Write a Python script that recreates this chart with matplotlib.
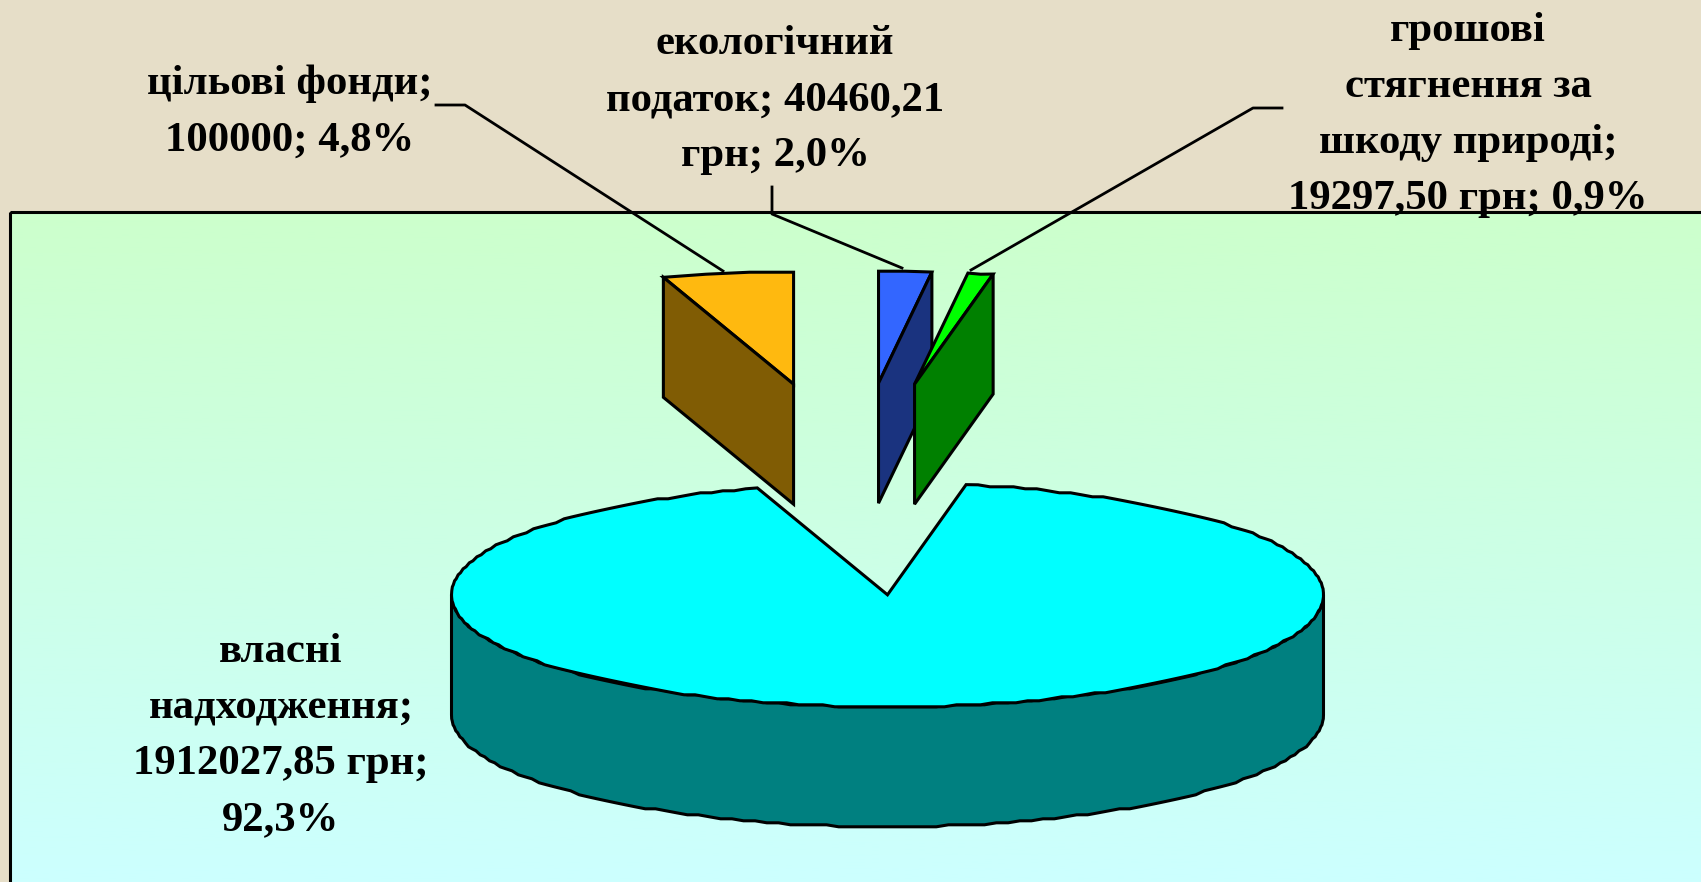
import numpy as np
import matplotlib
matplotlib.use("Agg")
import matplotlib.pyplot as plt
from matplotlib.patches import Polygon, Rectangle

# slices, clockwise from 12 o'clock
names = ["екологічний податок", "грошові стягнення", "власні надходження", "цільові фонди"]
values = [40460.21, 19297.50, 1912027.85, 100000.0]
labels = [
    "екологічний\nподаток; 40460,21\nгрн; 2,0%",
    "грошові\nстягнення за\nшкоду природі;\n19297,50 грн; 0,9%",
    "власні\nнадходження;\n1912027,85 грн;\n92,3%",
    "цільові фонди;\n100000; 4,8%",
]
top_colors = ["#3366FF", "#00FF00", "#00FFFF", "#FFB90F"]
side_colors = ["#1A337F", "#008000", "#008080", "#805C04"]

W, H = 1701, 882
RX, RY, DEPTH = 436, 112, 120
CX, CY = 854, 489
EXPLODE_X, EXPLODE_Y = 400, 106
LW = 2.2


def ell(a):
    a = np.radians(a)
    return np.column_stack([RX * np.sin(a), -RY * np.cos(a)])


def rough_arc(a0, a1, step=1.6, snap=2.0):
    # the original outline is a coarse polyline, not a smooth curve
    n = max(int((a1 - a0) / step), 2)
    pts = ell(np.linspace(a0, a1, n + 1))
    pts[1:-1, 1] = np.round(pts[1:-1, 1] / snap) * snap
    return pts


def main():
    plt.rcParams["font.family"] = ["Liberation Serif", "DejaVu Serif"]
    fig = plt.figure(figsize=(W / 100, H / 100), dpi=100, facecolor="#E6DEC8")
    ax = fig.add_axes([0, 0, 1, 1])
    ax.axis("off")

    # panel with vertical gradient
    t = np.linspace(0, 1, 256)[:, None, None]
    grad = np.concatenate([np.full_like(t, 0.8), np.ones_like(t), 0.8 + 0.2 * t], axis=2)
    ax.imshow(grad, extent=[9.5, W + 5, H, 212], aspect="auto", zorder=1)
    ax.set_xlim(0, W)
    ax.set_ylim(H, 0)
    ax.add_patch(Rectangle((9.5, 212), W, H, fill=False, ec="black", lw=LW, zorder=2))

    angles = np.array(values) / sum(values) * 360
    starts = np.concatenate([[0], np.cumsum(angles)[:-1]])
    stops = starts + angles

    # big slice first, it sits behind the small ones
    order = [2, 3, 0, 1]
    for i in order:
        mid = (starts[i] + stops[i]) / 2
        dx = EXPLODE_X * np.sin(np.radians(mid))
        dy = -EXPLODE_Y * np.cos(np.radians(mid))
        if i == 2:
            dx = 33.5
        apex = np.array([CX + dx, CY + dy])
        if i == 2:
            arc = rough_arc(starts[i], stops[i]) + apex
            lo = rough_arc(90, 270) + apex
            wall = np.vstack([lo, (lo + [0, DEPTH])[::-1]])
            ax.add_patch(Polygon(wall, fc=side_colors[i], ec="black", lw=LW, zorder=3))
            top = np.vstack([apex, arc])
            ax.add_patch(Polygon(top, fc=top_colors[i], ec="black", lw=LW, joinstyle="miter", zorder=4))
        else:
            arc = rough_arc(starts[i], stops[i], step=5.0) + apex
            # visible cut face, on the edge further from 12 o'clock
            edge = starts[i] if i == 3 else stops[i]
            outer = ell([edge])[0] + apex
            face = [apex, outer, outer + [0, DEPTH], apex + [0, DEPTH]]
            z = 5 + order.index(i)
            top = np.vstack([apex, arc])
            ax.add_patch(Polygon(top, fc=top_colors[i], ec="black", lw=LW, joinstyle="miter", zorder=z))
            ax.add_patch(Polygon(face, fc=side_colors[i], ec="black", lw=LW, joinstyle="miter", zorder=z))

    # leader lines
    leaders = [
        ([772, 772, 902], [187, 214, 268]),
        ([1282, 1253, 971], [108, 108, 270]),
        ([436, 465, 723], [105, 105, 271]),
    ]
    for xs, ys in leaders:
        ax.plot(xs, ys, color="black", lw=LW - 0.2, zorder=10)

    # data labels
    spots = [(775, 100), (1468, 115), (281, 736), (290, 112)]
    for text, (x, y) in zip(labels, spots):
        ax.text(x, y, text, ha="center", va="center", multialignment="center",
                fontsize=30.8, fontweight="bold", linespacing=1.62, color="black", zorder=12)

    fig.savefig("out.png", dpi=100, facecolor=fig.get_facecolor())


if __name__ == "__main__":
    main()
